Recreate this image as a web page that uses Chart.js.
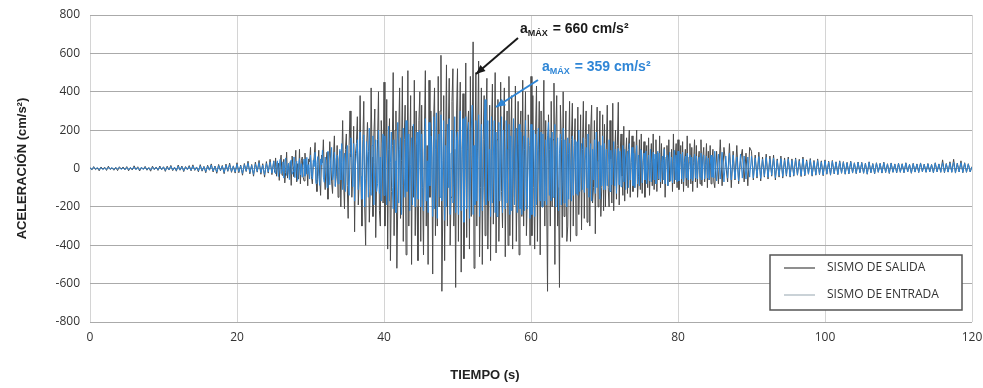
<!DOCTYPE html>
<html>
<head>
<meta charset="utf-8">
<script src="https://cdn.jsdelivr.net/npm/chart.js@4.4.0/dist/chart.umd.min.js"></script>
<style>
  html, body { margin: 0; padding: 0; background: #fff; }
  #wrap { width: 983px; height: 388px; position: relative; }
</style>
</head>
<body>
<div id="wrap"><canvas id="grafico"></canvas></div>
<script>
// tramos de muestreo (s): 0-25 cada 0.25, 25-85 cada 0.125, 85-120 cada 0.25
var tramos = [[0, 25, 0.25], [25, 85, 0.125], [85, 120.001, 0.25]];

// SISMO DE SALIDA (cm/s2)
var salida = [
  // 0 - 25 s
  5, -8, 10, -6, 3, -12, 8, -4, 7, -10, 12, -5, 4, -9, 6, -11, 9, -3, 8, -7,
  10, -12, 6, -8, 14, -5, 9, -13, 7, -4, 11, -9, 5, -14, 12, -6, 8, -10, 13, -7,
  9, -15, 12, -8, 16, -11, 7, -14, 18, -9, 13, -16, 10, -6, 15, -12, 19, -10, 8, -17,
  20, -14, 11, -22, 17, -9, 24, -18, 13, -25, 21, -12, 16, -27, 23, -15, 28, -20, 14, -24,
  30, -22, 18, -35, 26, -16, 38, -28, 21, -40, 33, -19, 42, -30, 25, -45, 36, -24, 48, -32,
  // 25 - 85 s
  40, -20, 55, -40, 10, 28, -62, 30, 70, -35, 15, 48, -75, -20, 85, -50, 20, -30, 36, -88, 65, 10, -42, 30, 95, -70, 25, -55, 100, -80, 40, 60, -45, -65, 80, -30, 20, -90, 50, 35,
  110, -40, -80, 20, 60, 135, -60, -120, 20, 95, -50, -140, 70, 30, 150, -30, -110, 40, 85, -160, 20, 140, 40, -70, -130, 60, 170, -90, -40, 120, -150, 50, 90, -200, 30, 250, -60, -210, 100, 180,
  -90, -260, 120, 300, 60, -150, -40, 220, -330, 80, 130, 270, -190, -60, 380, -100, -300, 150, 350, -200, -400, 100, 240, 90, -280, -120, 420, 60, -250, 180, 310, -360, -50, 150, 400, -220, -300, 250, 130, -180,
  450, -300, 40, 360, -420, 100, 260, -480, -120, 120, 500, -350, 200, 300, -520, -180, 180, 420, -260, 40, 480, -380, 150, 330, -450, -100, 510, -300, 60, 380, -500, 220, -150, 460, -350, 300, -200, -480, 250, 400,
  -380, 330, -100, -450, 200, 510, -300, 120, -500, 460, -150, 300, 100, -550, 250, 420, -350, 150, -300, 480, -200, 300, 590, -640, -200, 380, -480, 100, 540, -300, 200, 470, -400, -150, 350, 520, -300, 100, -620, 300,
  520, -380, 150, 450, -540, 100, 390, -470, -100, 550, -360, 200, 300, -420, 480, -250, 120, 660, -520, 80, 500, -300, 200, 560, -460, -100, 420, -500, 150, 380, -350, 250, 470, -420, -80, 330, -480, 200, 440, -290,
  60, 500, -440, 150, 360, -380, -100, 450, -120, -310, 200, 420, -460, 100, 300, -400, 480, -350, 150, 380, -420, 250, -150, 430, -380, -60, 350, -450, 200, 300, -250, 460, -300, 100, 400, -350, -150, 280, 120, -400,
  480, -350, 380, -100, -420, 200, 430, -380, 100, 350, -450, 300, -200, 150, 460, -300, 250, -150, -640, 280, 100, -300, 350, -200, 150, 445, -500, 200, 380, -300, -100, -620, 330, 150, -360, 400, -250, 100, 300, -380,
  -300, 80, 350, -380, 150, 340, -300, 120, 260, -350, -100, 320, -240, -60, 280, -320, 100, 350, -260, 150, 300, -280, -100, 230, -300, 200, 330, -180, -100, 250, -340, 120, 320, -200, 60, 300, -250, -100, 280, -220,
  230, -200, 100, 330, -100, -200, 250, 50, -180, 340, -220, 60, 200, -160, 120, 345, -190, 80, 180, -40, -140, 220, -170, 60, 160, -130, 100, 200, -150, 30, 170, -120, 140, -100, 60, 200, -150, -40, 150, -110,
  180, -130, 40, 140, -150, 60, 120, -100, 160, -140, 30, 130, -90, 180, -110, 50, 150, -120, 80, -60, 170, -100, 130, -80, 40, 110, -150, 60, 120, -90, 150, -70, -30, 100, -120, 180, -80, 60, 130, -100,
  150, -110, 40, 120, -80, 140, -120, 30, 100, -90, 170, -100, 60, 130, -80, 110, -120, 30, 150, -70, 120, -100, 40, 90, -80, 150, -90, 60, 110, -70, 20, 130, -100, 90, -60, 120, -80, 40, 100, -70,
  // 85 - 120 s
  -100, 90, -80, 150, -90, 110, 20, -70, 130, -100, 90, -60, 120, -80, 40, 100, -70, 80, -90, 110,
  90, -60, 70, -50, 85, -65, 60, -45, 75, -55, 65, -40, 70, -60, 50, -45, 65, -50, 55, -40,
  60, -45, 50, -40, 55, -35, 48, -42, 60, -38, 45, -30, 52, -40, 42, -35, 50, -32, 40, -38,
  45, -30, 38, -35, 42, -28, 35, -32, 40, -25, 36, -30, 32, -28, 38, -24, 30, -27, 34, -22,
  32, -25, 28, -30, 35, -22, 26, -28, 30, -20, 27, -24, 33, -21, 25, -26, 29, -20, 24, -23,
  28, -20, 25, -22, 30, -18, 22, -25, 27, -19, 24, -21, 29, -17, 23, -20, 26, -18, 21, -22,
  30, -18, 24, -20, 45, -22, 26, -19, 35, -20, 48, -24, 28, -18, 40, -22, 30, -20, 25, -18,
  10
];

// SISMO DE ENTRADA (cm/s2)
var entrada = [
  // 0 - 25 s
  4, -5, 6, -3, 5, -7, 4, -6, 3, -5, 7, -4, 5, -6, 4, -3, 6, -5, 4, -6,
  6, -7, 5, -4, 8, -6, 5, -8, 6, -5, 7, -6, 4, -8, 7, -5, 6, -7, 8, -5,
  8, -10, 7, -6, 11, -8, 6, -10, 12, -7, 9, -11, 8, -6, 10, -9, 13, -8, 7, -12,
  14, -10, 9, -16, 12, -8, 18, -13, 10, -18, 15, -9, 12, -20, 17, -11, 20, -15, 11, -18,
  22, -16, 14, -25, 20, -12, 28, -20, 16, -30, 24, -15, 30, -22, 18, -32, 26, -18, 34, -24,
  // 25 - 85 s
  38, -10, -28, 22, 40, -42, 10, 48, -26, -10, 35, -50, 20, 55, -36, 5, 28, -58, 30, 45, -30, -15, 60, -48, 20, 38, -62, 10, 52, -34, 25, -45, 15, 50, -40, -20, 58, -30, 20, -55,
  70, -20, -55, 42, 10, 85, -78, 30, 62, -40, -88, 50, 20, 95, -45, -72, 60, 15, -100, 90, 20, -85, 40, 110, -60, -30, 85, -95, 50, 70, -80, -20, 100, -60, 130, -110, 40, 80, -120, 60,
  120, -60, -140, 80, 160, 40, -95, 130, -170, 20, 80, 150, -110, 60, 190, -40, -160, 100, 175, -200, -50, 140, 60, -150, 210, -90, -140, 120, 170, -190, 30, 150, -120, -80, 200, -130, 60, -170, 110, 180,
  -140, 170, -60, -190, 80, 220, -170, 30, 190, -100, -210, 150, 40, -230, 60, 240, -180, 100, 160, -240, -90, 210, -50, -150, 250, -120, 80, 180, -220, 20, 160, -190, 230, -80, -200, 120, 190, -160, 60, 200,
  -200, 180, -60, -220, 100, 260, -170, 40, -230, 240, -90, 170, 60, -250, 270, -210, 100, 290, -260, 60, 180, -150, 280, -170, 40, 250, -270, 120, -200, 230, -100, 260, -240, 80, 200, -180, -90, 270, -230, 150,
  190, -240, 120, 300, -220, 60, 260, -280, 40, 270, -210, 100, 240, -260, -80, 210, 330, -240, 120, -190, 250, -170, 100, 280, -250, 60, 230, -220, -100, 200, 359, -190, 80, 250, -170, 100, -250, 270, -180, 60,
  250, -230, 190, -250, 90, 240, -170, 60, 270, -230, 200, -60, -210, 250, -180, 100, 230, -240, 170, -220, 40, 260, -190, 30, 210, -230, 120, 230, -210, 190, -240, 60, 170, -220, 250, -100, -210, 160, 80, -260,
  230, -240, 100, 200, -250, 180, -190, 60, 210, -60, -170, 190, -200, 180, 40, -170, 150, -190, 170, 240, -140, 160, -170, 190, -150, 60, 230, -200, 100, 160, -220, 80, 180, -190, -60, 210, -180, 150, 60, -200,
  160, -160, 130, -30, -170, 170, -140, 50, 150, -130, 140, -140, 200, -120, 50, 130, -110, 160, -125, 40, 110, -100, 180, -150, 60, 130, -170, 100, -60, 150, -130, 190, -100, 40, 140, -160, 120, -90, 170, -110,
  130, -110, 100, -90, 20, 150, -120, 95, -85, 30, 140, -90, 100, -130, 40, 105, -85, 90, -95, 20, 120, -70, 100, -110, 60, 90, -100, 130, -60, 30, 110, -90, 80, -100, 40, 120, -80, 70, -90, 100,
  95, -75, 30, 80, -60, 90, -80, 20, 70, -65, 100, -70, 40, 85, -60, 75, -80, 30, 90, -55, 80, -70, 20, 65, -60, 100, -80, 50, 70, -90, 40, 85, -65, 60, -75, 30, 95, -60, 70, -70,
  90, -65, 30, 75, -55, 85, -70, 20, 65, -50, 80, -60, 30, 70, -55, 60, -65, 20, 75, -50, 65, -55, 30, 60, -45, 80, -60, 40, 70, -55, 25, 65, -50, 55, -60, 20, 70, -45, 60, -50,
  // 85 - 120 s
  90, -65, 75, -55, 85, -70, 65, -50, 80, -60, 70, -55, 60, -65, 75, -50, 65, -55, 60, -45,
  65, -50, 55, -42, 62, -52, 48, -40, 58, -45, 50, -35, 55, -48, 42, -38, 52, -42, 45, -35,
  50, -40, 42, -36, 48, -32, 40, -38, 50, -34, 38, -28, 45, -36, 36, -32, 42, -30, 35, -34,
  40, -28, 34, -32, 38, -26, 32, -30, 36, -24, 33, -28, 30, -26, 35, -22, 28, -25, 31, -20,
  30, -24, 26, -28, 32, -21, 24, -26, 28, -19, 25, -22, 30, -20, 23, -24, 27, -19, 22, -21,
  26, -19, 23, -21, 28, -17, 21, -23, 25, -18, 22, -20, 27, -16, 21, -19, 24, -17, 20, -21,
  28, -17, 22, -19, 30, -20, 24, -18, 28, -19, 32, -22, 26, -17, 30, -20, 27, -19, 23, -17,
  8
];

var tiempo = [];
tramos.forEach(function(tr){
    var n = Math.round((tr[1] - tr[0]) / tr[2] + 0.4999);
    for (var k = 0; k < n; k++) tiempo.push(tr[0] + k * tr[2]);
});

var series = ['SISMO DE SALIDA', 'SISMO DE ENTRADA'];
var picos = ['660', '359'];

function puntos(arr){
    return arr.map(function(v, i){ return {x: tiempo[i], y: v}; });
}

var GRIS = '#4a4a4a';
var AZUL = '#2f86d6';

// leyenda, anotaciones y titulo del eje x
var extras = {
    id: 'extras',
    afterDraw: function(chart){
        var c = chart.ctx;
        c.save();

        // titulo eje x
        c.fillStyle = '#222';
        c.font = 'bold 13px "Liberation Sans", Arial, sans-serif';
        c.textAlign = 'center';
        c.textBaseline = 'middle';
        c.fillText('TIEMPO (s)', 485, 375);

        // anotaciones a max
        function nota(x, y, color, valor){
            c.fillStyle = color;
            c.textAlign = 'left';
            c.textBaseline = 'alphabetic';
            c.font = 'bold 14px "Liberation Sans", Arial, sans-serif';
            c.fillText('a', x, y);
            var w = c.measureText('a').width;
            c.font = 'bold 9px "Liberation Sans", Arial, sans-serif';
            c.fillText('MÁX', x + w, y + 3);
            var w2 = c.measureText('MÁX').width;
            c.font = 'bold 14px "Liberation Sans", Arial, sans-serif';
            c.fillText(' = ' + valor + ' cm/s²', x + w + w2 + 1, y);
        }
        function flecha(x1, y1, x2, y2, color){
            c.strokeStyle = color;
            c.fillStyle = color;
            c.lineWidth = 2;
            c.beginPath();
            c.moveTo(x1, y1);
            c.lineTo(x2, y2);
            c.stroke();
            var a = Math.atan2(y2 - y1, x2 - x1);
            c.beginPath();
            c.moveTo(x2, y2);
            c.lineTo(x2 - 10 * Math.cos(a - 0.4), y2 - 10 * Math.sin(a - 0.4));
            c.lineTo(x2 - 10 * Math.cos(a + 0.4), y2 - 10 * Math.sin(a + 0.4));
            c.closePath();
            c.fill();
        }
        nota(520, 33, '#1a1a1a', picos[0]);
        flecha(518, 38, 476, 74, '#1a1a1a');
        nota(542, 71, AZUL, picos[1]);
        flecha(538, 80, 496, 107, AZUL);

        // leyenda
        c.fillStyle = '#fff';
        c.fillRect(770, 255, 192, 55);
        c.strokeStyle = '#555';
        c.lineWidth = 1.5;
        c.strokeRect(770, 255, 192, 55);
        c.lineWidth = 1.5;
        c.strokeStyle = '#6a6a6a';
        c.beginPath(); c.moveTo(784, 268); c.lineTo(815, 268); c.stroke();
        c.strokeStyle = '#b9c3ca';
        c.beginPath(); c.moveTo(784, 295); c.lineTo(815, 295); c.stroke();
        c.fillStyle = '#333';
        c.font = '12px "Open Sans", sans-serif';
        c.textAlign = 'left';
        c.textBaseline = 'middle';
        c.fillText(series[0], 827, 268);
        c.fillText(series[1], 827, 295);

        c.restore();
    }
};

var ctx = document.getElementById('grafico').getContext('2d');
var myChart = new Chart(ctx, {
    type: 'line',
    data: {
        datasets: [{
            label: series[1],
            data: puntos(entrada),
            borderColor: AZUL,
            borderWidth: 1,
            pointRadius: 0,
            order: 1
        }, {
            label: series[0],
            data: puntos(salida),
            borderColor: GRIS,
            borderWidth: 1,
            pointRadius: 0,
            order: 2
        }]
    },
    options: {
        responsive: true,
        maintainAspectRatio: false,
        animation: false,
        layout: { padding: { left: 0, right: 11, top: 15, bottom: 0 } },
        plugins: {
            legend: { display: false },
            tooltip: { enabled: false }
        },
        scales: {
            x: {
                type: 'linear',
                min: 0,
                max: 120,
                ticks: {
                    stepSize: 20,
                    color: '#333',
                    font: { size: 12, family: '"Open Sans", sans-serif' },
                    padding: 8,
                    maxRotation: 0
                },
                grid: { color: '#d4d4d4', drawTicks: false },
                border: { display: false },
                afterFit: function(s){ s.height = 66; s.paddingLeft = 0; s.paddingRight = 0; }
            },
            y: {
                min: -800,
                max: 800,
                ticks: {
                    stepSize: 200,
                    color: '#333',
                    font: { size: 12, family: '"Open Sans", sans-serif' },
                    padding: 10
                },
                grid: { color: '#aaaaaa', drawTicks: false },
                border: { display: false },
                title: {
                    display: true,
                    text: 'ACELERACIÓN (cm/s²)',
                    color: '#222',
                    font: { size: 13, weight: 'bold', family: '"Liberation Sans", Arial, sans-serif' },
                    padding: { top: 15, bottom: 0 }
                },
                afterFit: function(s){ s.width = 90; s.paddingTop = 0; s.paddingBottom = 0; }
            }
        }
    },
    plugins: [extras]
});
</script>
</body>
</html>
